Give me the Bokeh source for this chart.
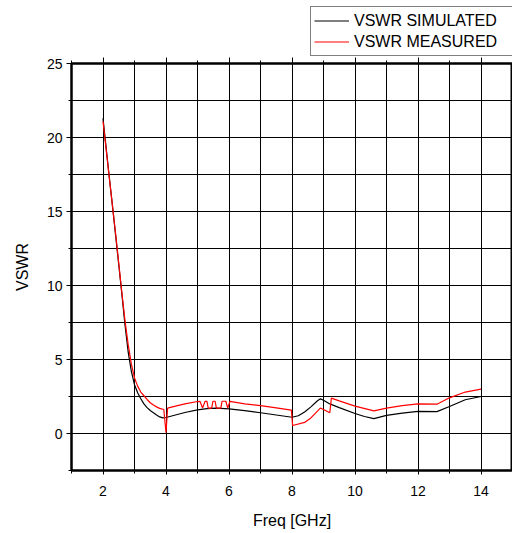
from bokeh.plotting import figure
from bokeh.layouts import column
from bokeh.models import (Legend, LegendItem, SingleIntervalTicker, LinearAxis, Range1d,
                          CustomJSTickFormatter)
from bokeh.embed import file_html
from bokeh.resources import INLINE

# Simulated VSWR
sim_freq = [2.0, 2.1, 2.2, 2.3, 2.4, 2.5, 2.6, 2.7, 2.8, 2.9, 3.0, 3.1, 3.2, 3.3, 3.4,
            3.5, 3.6, 3.7, 3.8, 3.9, 4.0, 4.3, 4.6, 5.0, 5.3, 5.6, 6.0, 6.5, 7.0, 7.5,
            8.0, 8.2, 8.4, 8.6, 8.8, 8.9, 9.0, 9.2, 9.5, 10.0, 10.3, 10.6, 11.0, 11.5,
            12.0, 12.6, 13.0, 13.5, 14.0]
sim_vswr = [21.3, 19.3, 17.3, 15.4, 13.4, 11.4, 9.4, 7.3, 5.5, 4.2, 3.3, 2.75, 2.35, 2.0, 1.75,
            1.55, 1.4, 1.25, 1.12, 1.06, 1.08, 1.25, 1.42, 1.6, 1.68, 1.71, 1.67, 1.55, 1.40, 1.25,
            1.10, 1.2, 1.45, 1.8, 2.2, 2.34, 2.25, 2.0, 1.75, 1.35, 1.15, 1.01, 1.22, 1.38,
            1.5, 1.48, 1.82, 2.28, 2.5]

# Measured VSWR
meas_freq = [2.0, 2.1, 2.2, 2.3, 2.4, 2.5, 2.6, 2.7, 2.8, 2.9, 3.0, 3.1, 3.2, 3.3, 3.4,
             3.5, 3.6, 3.7, 3.8, 3.93, 4.0, 4.05, 4.3, 4.6, 5.0,
             5.08, 5.16, 5.24, 5.30, 5.34, 5.45, 5.49, 5.56, 5.60, 5.74, 5.78, 5.90, 5.96, 6.03,
             6.5, 7.0, 7.5, 7.98, 8.02, 8.4, 8.6, 8.8, 8.9, 9.0, 9.2, 9.25, 9.5, 10.0,
             10.6, 11.0, 11.5, 12.0, 12.6, 13.0, 13.5, 14.0]
meas_vswr = [21.1, 19.2, 17.3, 15.4, 13.5, 11.5, 9.5, 7.6, 6.0, 4.7, 3.76, 3.2, 2.8, 2.55, 2.3,
             2.08, 1.92, 1.8, 1.7, 1.62, 0.05, 1.71, 1.85, 2.0, 2.16,
             2.17, 1.72, 2.17, 2.17, 1.72, 1.72, 2.18, 2.18, 1.72, 1.72, 2.18, 2.18, 1.72, 2.17,
             2.0, 1.88, 1.73, 1.58, 0.54, 0.75, 1.05, 1.5, 1.72, 1.62, 1.40, 2.39, 2.2, 1.85,
             1.53, 1.72, 1.88, 2.0, 1.98, 2.41, 2.8, 3.0]

series_labels = ["VSWR SIMULATED", "VSWR MEASURED"]
series_colors = ["black", "red"]

FONT = "Liberation Sans"

# ---- main chart ----
p = figure(width=512, height=476, output_backend="svg", toolbar_location=None,
           x_range=Range1d(1, 15), y_range=Range1d(-2.5, 25),
           min_border_left=71, min_border_right=0, min_border_top=6, min_border_bottom=63,
           x_axis_label="Freq [GHz]", y_axis_label="VSWR")
p.background_fill_color = "white"
p.border_fill_color = "white"
p.outline_line_color = "black"
p.outline_line_width = 2

p.line(sim_freq, sim_vswr, line_color=series_colors[0], line_width=1.2)
p.line(meas_freq, meas_vswr, line_color=series_colors[1], line_width=1.2)

xt = SingleIntervalTicker(interval=2, num_minor_ticks=2)
yt = SingleIntervalTicker(interval=5, num_minor_ticks=2)
p.xaxis.ticker = xt
p.yaxis.ticker = yt

for ax in (p.xaxis[0], p.yaxis[0]):
    ax.axis_line_width = 2
    ax.axis_line_color = "black"
    ax.major_tick_line_color = "black"
    ax.minor_tick_line_color = "black"
    ax.major_tick_in = 0
    ax.minor_tick_in = 0
    ax.major_label_text_font = FONT
    ax.major_label_text_font_size = "14px"
    ax.major_label_text_color = "black"
    ax.axis_label_text_font = FONT
    ax.axis_label_text_font_size = "16px"
    ax.axis_label_text_font_style = "normal"
    ax.axis_label_text_color = "black"

p.xaxis.major_tick_out = 4
p.xaxis.minor_tick_out = 3
p.xaxis.major_label_standoff = 11
p.xaxis.axis_label_standoff = 13
p.yaxis.major_tick_out = 5
p.yaxis.minor_tick_out = 3
p.yaxis.major_label_standoff = 4
p.yaxis.axis_label_standoff = 13

top = LinearAxis(ticker=SingleIntervalTicker(interval=2, num_minor_ticks=2),
                 formatter=CustomJSTickFormatter(code="return ''"),
                 axis_line_width=2, major_label_standoff=0,
                 major_tick_in=0, minor_tick_in=0, major_tick_out=6, minor_tick_out=3)
p.add_layout(top, "above")

p.xgrid.ticker = xt
p.ygrid.ticker = yt
for g in (p.xgrid[0], p.ygrid[0]):
    g.grid_line_color = "black"
    g.grid_line_width = 1
    g.minor_grid_line_color = "black"
    g.minor_grid_line_width = 1

# ---- legend strip above the chart ----
lg = figure(width=512, height=57, output_backend="svg", toolbar_location=None,
            x_axis_location=None, y_axis_location=None,
            x_range=Range1d(0, 1), y_range=Range1d(0, 1),
            min_border=0, min_border_left=71, min_border_right=0,
            min_border_top=0, min_border_bottom=0)
lg.outline_line_color = None
lg.grid.visible = False
lg.background_fill_color = "white"
lg.border_fill_color = "white"
items = []
for lab, col in zip(series_labels, series_colors):
    # glyph kept outside the visible range: only its legend swatch shows
    r = lg.line([5, 6], [5, 6], line_color=col, line_width=1.2)
    items.append(LegendItem(label=lab, renderers=[r]))
legend = Legend(items=items, location=(239, 1))
legend.border_line_color = "black"
legend.border_line_width = 1
legend.background_fill_color = "white"
legend.background_fill_alpha = 1
legend.label_text_font = FONT
legend.label_text_font_size = "16px"
legend.label_text_color = "black"
legend.glyph_width = 35
legend.glyph_height = 21
legend.label_height = 21
legend.label_width = 160
legend.label_standoff = 5
legend.padding = 3
legend.spacing = 0
legend.margin = 0
lg.add_layout(legend, "center")

layout = column(lg, p, spacing=0)
open("out.html", "w").write(file_html(layout, INLINE))
